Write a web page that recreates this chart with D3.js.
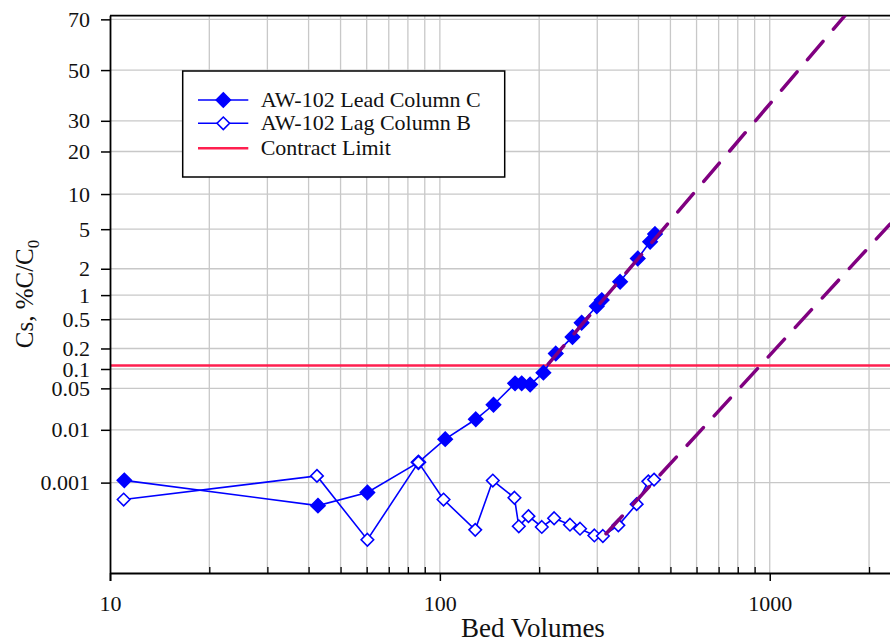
<!DOCTYPE html>
<html lang="en">
<head>
<meta charset="UTF-8">
<title>Cs breakthrough</title>
<style>
    body{
        margin: 0;
        background-color: white;
        font-family: "Liberation Serif", "Times New Roman", serif;
    }
    #chart{
        width: 890px;
        height: 639px;
        overflow: hidden;
    }
    .grid line{
        stroke: #c8c8c8;
        stroke-width: 1.3;
    }
</style>
</head>
<body>
<div id="chart"></div>
<script src="https://d3js.org/d3.v7.min.js"></script>
<script>

// data
let leadBV  = [11.05, 42.7, 60.3, 86.1, 103.8, 128.5, 145.4, 169, 177, 187.8, 206, 224.6, 252.4, 269, 299, 309.6, 351.9, 398, 433.9, 449]
let leadPct = [0.00111, 0.000335, 0.00063, 0.0025, 0.0068, 0.0153, 0.027, 0.06, 0.06, 0.0575, 0.088, 0.169, 0.29, 0.45, 0.73, 0.87, 1.43, 2.57, 3.8, 4.5]

let lagBV  = [11.0, 42.4, 60.3, 86.1, 102.6, 128, 144.7, 168.3, 173.5, 185.6, 203.7, 222, 248, 266, 294, 312, 347.6, 395, 428.5, 446]
let lagPct = [0.00045, 0.00136, 0.00006, 0.0025, 0.00045, 0.0001, 0.0011, 0.00049, 0.00012, 0.0002, 0.000116, 0.00018, 0.00013, 0.000106, 0.000075, 0.000073, 0.000126, 0.00036, 0.00106, 0.00115]

let contractLimit = 0.113

// dashed trend lines, end points [BV, %]
let fitLeadBV  = [213, 1690]
let fitLeadPct = [0.118, 71.3]
let fitLagBV   = [319, 2315]
let fitLagPct  = [0.000082, 5.56]

let yTicks = [70, 50, 30, 20, 10, 5, 2, 1, 0.5, 0.2, 0.1, 0.05, 0.01, 0.001]
let xMajor = [10, 100, 1000]
let xMinor = [20,30,40,50,60,70,80,90,200,300,400,500,600,700,800,900,2000]

let legendNames = ["AW-102 Lead Column C", "AW-102 Lag Column B", "Contract Limit"]

// inverse normal cdf (Acklam) for the probability axis
function probit(p){
    let a=[-39.69683028665376,220.9460984245205,-275.9285104469687,138.3577518672690,-30.66479806614716,2.506628277459239]
    let b=[-54.47609879822406,161.5858368580409,-155.6989798598866,66.80131188771972,-13.28068155288572]
    let c=[-0.007784894002430293,-0.3223964580411365,-2.400758277161838,-2.549732539343734,4.374664141464968,2.938163982698783]
    let d=[0.007784695709041462,0.3224671290700398,2.445134137142996,3.754408661907416]
    let pl=0.02425, q, r
    if(p<pl){
        q=Math.sqrt(-2*Math.log(p))
        return (((((c[0]*q+c[1])*q+c[2])*q+c[3])*q+c[4])*q+c[5])/((((d[0]*q+d[1])*q+d[2])*q+d[3])*q+1)
    }
    if(p<=1-pl){
        q=p-0.5; r=q*q
        return (((((a[0]*r+a[1])*r+a[2])*r+a[3])*r+a[4])*r+a[5])*q/(((((b[0]*r+b[1])*r+b[2])*r+b[3])*r+b[4])*r+1)
    }
    q=Math.sqrt(-2*Math.log(1-p))
    return -(((((c[0]*q+c[1])*q+c[2])*q+c[3])*q+c[4])*q+c[5])/((((d[0]*q+d[1])*q+d[2])*q+d[3])*q+1)
}

let W = 890, H = 639
let pLeft = 110, pTop = 15.7, pBottom = 573, pRight = 901

let svg = d3.select("#chart").append("svg")
    .attr("width", W).attr("height", H)

let xScale = d3.scaleLog().domain([10, 2500]).range([pLeft, pRight])
let zScale = d3.scaleLinear().domain([probit(1e-7), probit(0.713)]).range([pBottom, pTop])
let yScale = pct => zScale(probit(pct/100))

svg.append("defs").append("clipPath").attr("id","plotClip")
    .append("rect").attr("x",pLeft).attr("y",pTop).attr("width",pRight-pLeft).attr("height",pBottom-pTop)

// grid
let grid = svg.append("g").attr("class","grid")
grid.selectAll(".vg").data(xMinor.concat([100,1000]))
    .join("line")
    .attr("x1",d=>xScale(d)).attr("x2",d=>xScale(d))
    .attr("y1",pTop).attr("y2",pBottom)
grid.selectAll(".hg").data(yTicks)
    .join("line")
    .attr("x1",pLeft).attr("x2",W)
    .attr("y1",d=>yScale(d)).attr("y2",d=>yScale(d))

// contract limit
svg.append("line")
    .attr("x1",pLeft).attr("x2",W)
    .attr("y1",yScale(contractLimit)).attr("y2",yScale(contractLimit))
    .attr("stroke","#ff1f4f").attr("stroke-width",2.5)

// axes
svg.append("g")
    .attr("transform",`translate(0,${pBottom})`)
    .call(d3.axisBottom(xScale).tickValues(xMajor).tickFormat(d3.format("d")).tickSize(8).tickPadding(14))
    .call(g=>g.select(".domain").attr("d",`M${pLeft},0.5H${W}`).attr("stroke-width",1.8))
    .call(g=>g.selectAll(".tick line").attr("stroke-width",1.5))
    .call(g=>g.selectAll("text").attr("font-size","22px").attr("font-family","Liberation Serif").attr("fill","#111"))

svg.append("g")
    .attr("transform",`translate(0,${pBottom})`)
    .call(d3.axisTop(xScale).tickValues(xMinor).tickFormat("").tickSize(6))
    .call(g=>g.select(".domain").remove())
    .call(g=>g.selectAll(".tick line").attr("stroke-width",1.3))

let yAxis = d3.axisLeft(zScale)
    .tickValues(yTicks.map(d=>probit(d/100)))
    .tickFormat((d,i)=>yTicks[i])
    .tickSize(9).tickPadding(11)

svg.append("g")
    .attr("transform",`translate(${pLeft},0)`)
    .call(yAxis)
    .call(g=>g.select(".domain").attr("d",`M0.5,${pTop}V${pBottom+8}`).attr("stroke-width",1.8))
    .call(g=>g.selectAll(".tick line").attr("stroke-width",1.5))
    .call(g=>g.selectAll("text").attr("font-size","22px").attr("font-family","Liberation Serif").attr("fill","#111"))

// top border
svg.append("line")
    .attr("x1",pLeft).attr("x2",W).attr("y1",pTop).attr("y2",pTop)
    .attr("stroke","black").attr("stroke-width",1.8)

// series
let line = d3.line().x(d=>xScale(d[0])).y(d=>yScale(d[1]))
let diamond = d3.symbol().type(d3.symbolDiamond2)

let series = [
    {name: legendNames[0], pts: d3.zip(leadBV, leadPct), fill: "#0000ff", size: 128},
    {name: legendNames[1], pts: d3.zip(lagBV, lagPct), fill: "white", size: 100}
]

let plot = svg.append("g").attr("clip-path","url(#plotClip)")

series.forEach(s=>{
    let g = plot.append("g")
    g.append("path")
        .attr("d", line(s.pts))
        .attr("fill","none")
        .attr("stroke","#0000ff")
        .attr("stroke-width",1.6)
    g.selectAll(".dot").data(s.pts)
        .join("path")
        .attr("transform",d=>`translate(${xScale(d[0])},${yScale(d[1])})`)
        .attr("d", diamond.size(s.size)())
        .attr("fill", s.fill)
        .attr("stroke","#0000ff")
        .attr("stroke-width",1.6)
})

// dashed fits
;[d3.zip(fitLeadBV, fitLeadPct), d3.zip(fitLagBV, fitLagPct)].forEach(f=>{
    plot.append("path")
        .attr("d", line(f))
        .attr("fill","none")
        .attr("stroke","#800080")
        .attr("stroke-width",3.5)
        .attr("stroke-linecap","round")
        .attr("stroke-dasharray","24 16")
})

// legend
let lg = svg.append("g")
lg.append("rect")
    .attr("x",182.7).attr("y",71).attr("width",322).attr("height",106)
    .attr("fill","white").attr("stroke","black").attr("stroke-width",1.5)

let rows = [100, 123.3, 148.3]
legendNames.forEach((n,i)=>{
    lg.append("line")
        .attr("x1",198).attr("x2",248.3)
        .attr("y1",rows[i]).attr("y2",rows[i])
        .attr("stroke", i<2 ? "#0000ff" : "#ff1f4f")
        .attr("stroke-width", i<2 ? 1.6 : 2.5)
    if(i<2){
        lg.append("path")
            .attr("transform",`translate(223.3,${rows[i]})`)
            .attr("d", diamond.size(series[i].size)())
            .attr("fill", series[i].fill)
            .attr("stroke","#0000ff")
            .attr("stroke-width",1.6)
    }
    lg.append("text")
        .attr("x",260.7).attr("y",rows[i]+7)
        .attr("font-size","22px")
        .attr("fill","#111")
        .text(n)
})

// axis titles
svg.append("text")
    .attr("x",533).attr("y",637)
    .attr("text-anchor","middle")
    .attr("font-size","27px")
    .attr("fill","#111")
    .text("Bed Volumes")

let yt = svg.append("text")
    .attr("transform","translate(33,294) rotate(-90)")
    .attr("text-anchor","middle")
    .attr("font-size","25px")
    .attr("fill","#111")
yt.append("tspan").text("Cs, %C/C")
yt.append("tspan").attr("font-size","17px").attr("dy",6).text("0")

</script>
</body>
</html>
